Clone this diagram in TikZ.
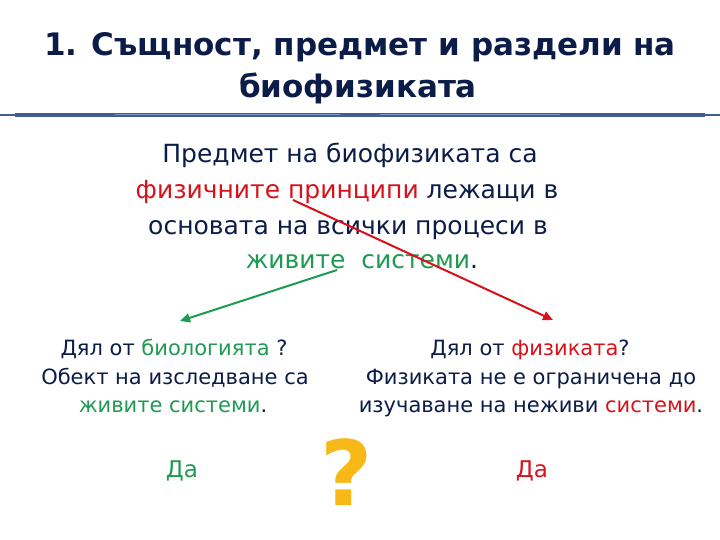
\documentclass[tikz,border=0pt]{standalone}
\usepackage{fontspec}
\setmainfont{DejaVu Sans}
\usetikzlibrary{arrows.meta}
\definecolor{navy}{HTML}{0B1C48}
\definecolor{rd}{HTML}{D8121B}
\definecolor{gr}{HTML}{1F9A52}
\definecolor{qm}{HTML}{F8B818}
\definecolor{rulec}{HTML}{415F8C}
\definecolor{rulel}{HTML}{7C98C4}
\begin{document}
\begin{tikzpicture}[x=1pt,y=-1pt,
  titletxt/.style={anchor=base, font=\fontsize{31}{36}\selectfont\bfseries, text=navy, inner sep=0pt},
  bodytxt/.style={anchor=base, font=\fontsize{25}{30}\selectfont, text=navy, inner sep=0pt},
  sidetxt/.style={anchor=base, font=\fontsize{21}{25}\selectfont, text=navy, inner sep=0pt},
  yestxt/.style={anchor=base, font=\fontsize{23}{27}\selectfont, inner sep=0pt},
  arr/.style={line width=2pt, -{Triangle[length=10pt,width=9pt]}}]
\useasboundingbox[fill=white] (0,0) rectangle (720,540);
% title
\node[titletxt] (t1) at (360,56) {1. Същност, предмет и раздели на};
\node[titletxt] (t2) at (358,98) {биофизиката};
% rule
\draw[rulec, line width=2pt] (0,115) -- (720,115);
\draw[rulec, line width=4pt] (15,115) -- (705,115);
\draw[rulel, line width=0.8pt] (115,114) -- (340,114) (380,114) -- (560,114);
% central text
\node[bodytxt] (b1) at (350,163) {Предмет на биофизиката са};
\node[bodytxt] (b2) at (347,199) {\textcolor{rd}{физичните принципи} лежащи в};
\node[bodytxt] (b3) at (348,234) {основата на всички процеси в};
\node[bodytxt] (b4) at (362,268) {\textcolor{gr}{живите\ \ системи}.};
% arrow anchors
\coordinate (gs) at (337,270);
\coordinate (ge) at (180,321);
\coordinate (rs) at (293,200);
\coordinate (re) at (553,320);
\draw[arr, gr] (gs) -- (ge);
\draw[arr, rd] (rs) -- (re);
% left block
\node[sidetxt] (l1) at (174,355) {Дял от \textcolor{gr}{биологията} ?};
\node[sidetxt] (l2) at (175,384) {Обект на изследване са};
\node[sidetxt] (l3) at (173,412) {\textcolor{gr}{живите системи}.};
\node[yestxt, text=gr] (l4) at (182,477) {Да};
% right block
\node[sidetxt] (r1) at (530,355) {Дял от \textcolor{rd}{физиката}?};
\node[sidetxt] (r2) at (531,384) {Физиката не е ограничена до};
\node[sidetxt] (r3) at (531,412) {изучаване на неживи \textcolor{rd}{системи}.};
\node[yestxt, text=rd] (r4) at (532,477) {Да};
% question mark
\node[anchor=base, inner sep=0pt, text=qm, font=\fontsize{90}{90}\selectfont\bfseries] (q) at (347,505) {?};
\end{tikzpicture}
\end{document}
